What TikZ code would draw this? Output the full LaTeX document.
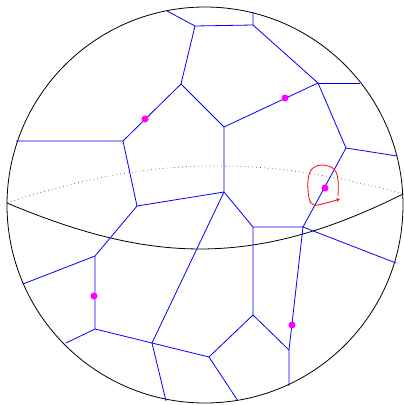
\documentclass[tikz,border=0pt]{standalone}
\usetikzlibrary{arrows.meta}
\definecolor{vblue}{RGB}{0,0,255}
\definecolor{vmag}{RGB}{255,0,255}
\definecolor{vred}{RGB}{255,0,0}
\begin{document}
\begin{tikzpicture}[x=1pt,y=-1pt,
  edge/.style={vblue,line width=0.8pt},
  site/.style={circle,fill=vmag,draw=none,inner sep=0pt,minimum size=7pt},
  rim/.style={black,line width=0.8pt},
  back/.style={black!70,line width=0.7pt,dash pattern=on 0.7pt off 3.2pt},
  loopline/.style={vred,line width=0.8pt}]
\useasboundingbox (0,0) rectangle (404,405);
% sphere outline
\draw[rim] (205,205) circle (198pt);
% equator
\coordinate (eqL) at (7,203);
\coordinate (eqR) at (403,194);
\draw[back] (eqL) .. controls (149.6,155.5) and (263,154.8) .. (eqR);
\draw[rim] (eqL) .. controls (149,262.6) and (253,269) .. (eqR);
% vertices
\coordinate (A) at (167,11);
\coordinate (B) at (195,26);
\coordinate (C) at (253,25);
\coordinate (D) at (253,12);
\coordinate (E) at (181,84);
\coordinate (F) at (224,127);
\coordinate (G) at (318,83);
\coordinate (H) at (360,83);
\coordinate (I) at (346,148);
\coordinate (J) at (397,156);
\coordinate (K) at (123,141);
\coordinate (L) at (16,141);
\coordinate (M) at (137,206);
\coordinate (N) at (224,192);
\coordinate (O) at (253,227);
\coordinate (P) at (303,227);
\coordinate (Q) at (396,263);
\coordinate (R) at (95,256);
\coordinate (S) at (23,284);
\coordinate (T) at (95,329);
\coordinate (U) at (66,343);
\coordinate (V) at (152,343);
\coordinate (W) at (166,401);
\coordinate (X) at (209,357);
\coordinate (Y) at (238,401);
\coordinate (Z) at (253,315);
\coordinate (AA) at (289,350);
\coordinate (AB) at (289,386);
% edges
\draw[edge] (A) -- (B) -- (C) -- (D);
\draw[edge] (B) -- (E) -- (F) -- (G) -- (C);
\draw[edge] (E) -- (K) -- (L);
\draw[edge] (K) -- (M) -- (R) -- (S);
\draw[edge] (G) -- (H);
\draw[edge] (G) -- (I) -- (J);
\draw[edge] (I) -- (P) -- (Q);
\draw[edge] (F) -- (N) -- (M);
\draw[edge] (N) -- (O) -- (P);
\draw[edge] (N) -- (V);
\draw[edge] (O) -- (Z) -- (AA) -- (AB);
\draw[edge] (P) -- (AA);
\draw[edge] (R) -- (T) -- (U);
\draw[edge] (T) -- (V) -- (W);
\draw[edge] (V) -- (X) -- (Y);
\draw[edge] (X) -- (Z);
% sites
\node[site] (s1) at (145,119) {};
\node[site] (s2) at (285,98) {};
\node[site] (s3) at (325,188) {};
\node[site] (s4) at (94,296) {};
\node[site] (s5) at (292,325) {};
% red loop
\draw[loopline,-{Stealth[length=4pt,width=4pt]}] plot[smooth,tension=0.6] coordinates
  {(338,196) (338,180) (334,169) (322,165) (312,169) (308,180) (309,198) (314,205) (326,203) (340,199)};
\end{tikzpicture}
\end{document}
